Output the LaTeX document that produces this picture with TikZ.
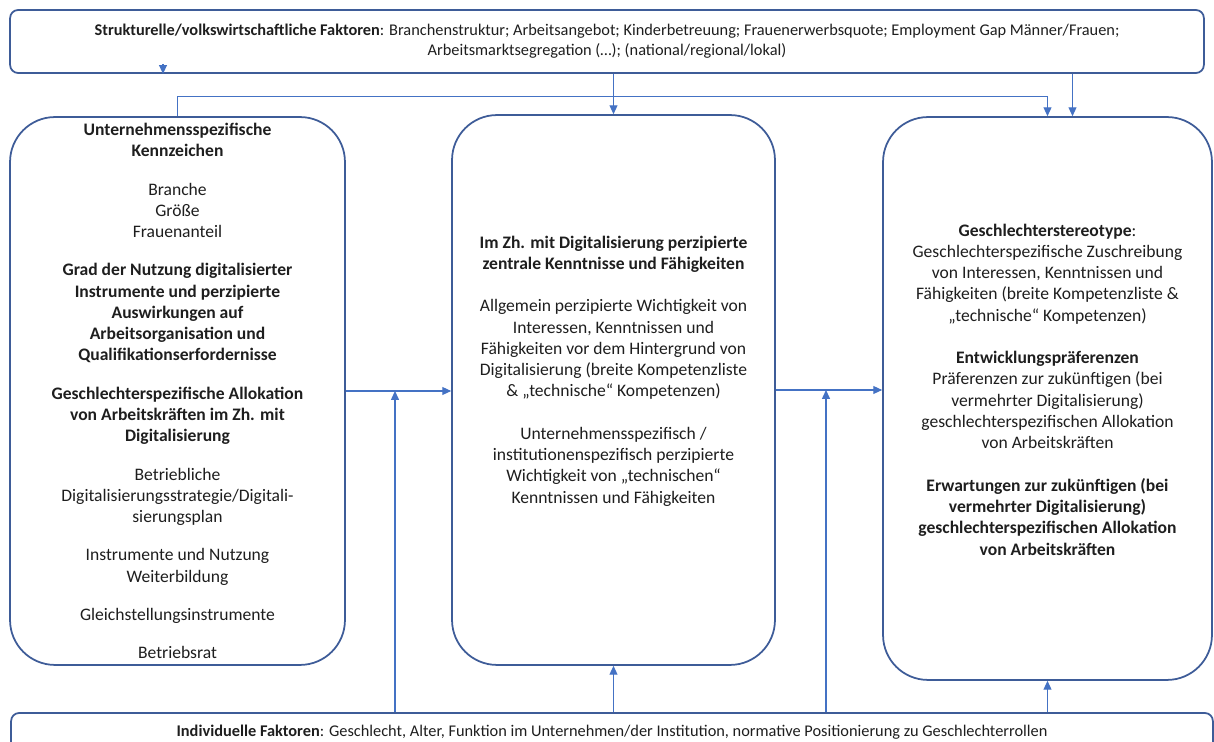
\documentclass[tikz,border=0pt]{standalone}
\usepackage{fontspec}
\setmainfont{Carlito}
\usetikzlibrary{arrows.meta, positioning}

\definecolor{boxblue}{HTML}{3E5C98}
\definecolor{lineblue}{HTML}{4472C4}
\definecolor{txtgray}{HTML}{1E1E1E}

\tikzset{
  factorbox/.style={draw=boxblue, line width=1pt, rounded corners=0.16cm, align=center, text=txtgray, font=\fontsize{9.3}{11.3}\selectfont},
  areabox/.style={draw=boxblue, line width=1pt, rounded corners=0.9cm},
  txt/.style={align=center, text=txtgray, inner sep=0pt, font=\fontsize{10}{12.1}\selectfont},
  arr/.style={draw=lineblue, line width=0.6pt, -{Triangle[length=5pt, width=4.5pt]}}
}

\begin{document}
\begin{tikzpicture}[x=0.02cm, y=-0.02cm, >=Latex]
        \useasboundingbox (0,0) rectangle (1214,742);

        % Nodes
        \node[factorbox, minimum width=23.88cm, minimum height=1.26cm] (struct) at (607,41.5)
          {\textbf{Strukturelle/volkswirtschaftliche Faktoren}: Branchenstruktur; Arbeitsangebot; Kinderbetreuung; Frauenerwerbsquote; Employment Gap M\"anner/Frauen;\\
           Arbeitsmarktsegregation (\dots); (national/regional/lokal)};
        \node[areabox, minimum width=6.7cm, minimum height=10.96cm] (firm) at (177.5,391) {};
        \node[areabox, minimum width=6.46cm, minimum height=11cm] (skills) at (613.5,390) {};
        \node[areabox, minimum width=6.58cm, minimum height=11.26cm] (stereo) at (1047.5,398.5) {};
        \node[factorbox, minimum width=24.04cm, minimum height=0.76cm] (indiv) at (612,732)
          {\textbf{Individuelle Faktoren}: Geschlecht, Alter, Funktion im Unternehmen/der Institution, normative Positionierung zu Geschlechterrollen};

        \node[txt] (firmtext) at (177.5,391) {%
          \textbf{Unternehmensspezifische}\\ \textbf{Kennzeichen}\\[9.7pt]
          Branche\\ Gr\"o\ss e\\ Frauenanteil\\[9.7pt]
          \textbf{Grad der Nutzung digitalisierter}\\ \textbf{Instrumente und perzipierte}\\ \textbf{Auswirkungen auf}\\ \textbf{Arbeitsorganisation und}\\ \textbf{Qualifikationserfordernisse}\\[9.7pt]
          \textbf{Geschlechterspezifische Allokation}\\ \textbf{von Arbeitskr\"aften im Zh. mit}\\ \textbf{Digitalisierung}\\[9.7pt]
          Betriebliche\\ Digitalisierungsstrategie/Digitali-\\ sierungsplan\\[9.7pt]
          Instrumente und Nutzung\\ Weiterbildung\\[9.7pt]
          Gleichstellungsinstrumente\\[9.7pt]
          Betriebsrat};
        \node[txt] (skillstext) at (613.5,371) {%
          \textbf{Im Zh. mit Digitalisierung perzipierte}\\ \textbf{zentrale Kenntnisse und F\"ahigkeiten}\\[12.1pt]
          Allgemein perzipierte Wichtigkeit von\\ Interessen, Kenntnissen und\\ F\"ahigkeiten vor dem Hintergrund von\\ Digitalisierung (breite Kompetenzliste\\ \& „technische“ Kompetenzen)\\[12.1pt]
          Unternehmensspezifisch /\\ institutionenspezifisch perzipierte\\ Wichtigkeit von „technischen“\\ Kenntnissen und F\"ahigkeiten};
        \node[txt] (stereotext) at (1047.5,389.5) {%
          \textbf{Geschlechterstereotype}:\\ Geschlechterspezifische Zuschreibung\\ von Interessen, Kenntnissen und\\ F\"ahigkeiten (breite Kompetenzliste \&\\ „technische“ Kompetenzen)\\[12.1pt]
          \textbf{Entwicklungspr\"aferenzen}\\ Pr\"aferenzen zur zuk\"unftigen (bei\\ vermehrter Digitalisierung)\\ geschlechterspezifischen Allokation\\ von Arbeitskr\"aften\\[12.1pt]
          \textbf{Erwartungen zur zuk\"unftigen (bei}\\ \textbf{vermehrter Digitalisierung)}\\ \textbf{geschlechterspezifischen Allokation}\\ \textbf{von Arbeitskr\"aften}};

        \coordinate (stub) at (163,64);
        \coordinate (firmin) at (395,391);
        \coordinate (stereoin) at (826,390);

        % Arrows
        \draw[arr] (stub) -- (stub |- struct.south);
        \draw[arr] (firm.north) -- ++(0,-20) -| (stereo.north);
        \draw[arr] (struct.south -| skills.north) -- (skills.north);
        \draw[arr] ([xshift=0.5cm]stereo.north |- struct.south) -- ([xshift=0.5cm]stereo.north);
        \draw[arr] (firm.east) -- (firm.east -| skills.west);
        \draw[arr] (skills.east) -- (skills.east -| stereo.west);
        \draw[arr] (indiv.north -| firmin) -- (firmin);
        \draw[arr] (indiv.north -| stereoin) -- (stereoin);
        \draw[arr] (indiv.north -| skills.south) -- (skills.south);
        \draw[arr] (indiv.north -| stereo.south) -- (stereo.south);

      \end{tikzpicture}
\end{document}
